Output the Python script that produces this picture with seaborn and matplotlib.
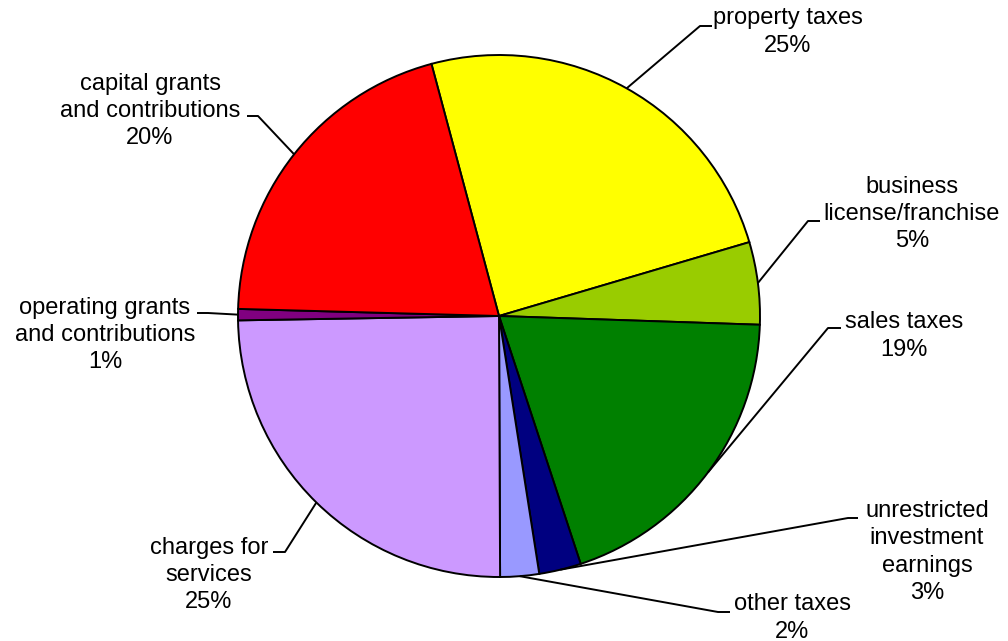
import numpy as np
import matplotlib
matplotlib.use("Agg")
import matplotlib.pyplot as plt
import seaborn as sns

# revenue sources (percent of total)
categories = ["property taxes", "business\nlicense/franchise", "sales taxes",
              "unrestricted\ninvestment\nearnings", "other taxes",
              "charges for\nservices", "operating grants\nand contributions",
              "capital grants\nand contributions"]
shares = [24.6, 5.1, 19.4, 2.6, 2.4, 24.8, 0.7, 20.4]
colors = ["#FFFF00", "#99CC00", "#008000", "#000080",
          "#9999FF", "#CC99FF", "#800080", "#FF0000"]

sns.set_theme(style="white")
plt.rcParams["font.family"] = ["Liberation Sans", "DejaVu Sans"]

W, H = 1008, 641
fig = plt.figure(figsize=(W / 100, H / 100), dpi=100)
ax = fig.add_axes([0, 0, 1, 1])

cx, cy, r = 499, H - 316, 261
wedges, _ = ax.pie(shares, colors=colors, startangle=105, counterclock=False,
                   center=(cx, cy), radius=r,
                   wedgeprops=dict(edgecolor="black", linewidth=1.4))
ax.set_xlim(0, W)
ax.set_ylim(0, H)
ax.set_aspect("equal")
ax.axis("off")

# label layout in image pixels: text centre, elbow, end of leader next to text
layout = [
    ((788, 32), (700, 26), (712, 26)),
    ((912, 214), (808, 221), (820, 221)),
    ((904, 336), (828, 328), (841, 328)),
    ((927, 552), (848, 518), (858, 518)),
    ((792, 618), (718, 612), (730, 612)),
    ((209, 575), (285, 552), (273, 552)),
    ((105, 335), (208, 313), (197, 313)),
    ((150, 111), (258, 116), (247, 116)),
]

total = sum(shares)
for w, cat, val, (txt, elbow, end) in zip(wedges, categories, shares, layout):
    mid = np.deg2rad((w.theta1 + w.theta2) / 2)
    sx, sy = cx + r * np.cos(mid), cy + r * np.sin(mid)
    ax.plot([sx, elbow[0], end[0]], [sy, H - elbow[1], H - end[1]],
            color="black", lw=1.4, solid_capstyle="butt")
    ax.text(txt[0], H - txt[1], f"{cat}\n{val / total * 100:.0f}%",
            ha="center", va="center", multialignment="center",
            fontsize=17, linespacing=1.3, color="black")

fig.savefig("out.png", dpi=100)
